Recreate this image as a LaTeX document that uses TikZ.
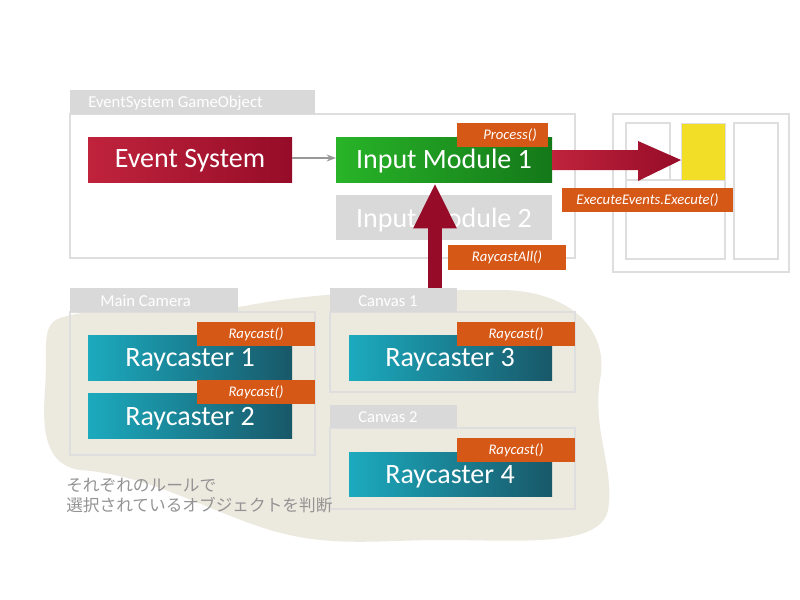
\documentclass[tikz,border=0pt]{standalone}
\usepackage{fontspec}
\setmainfont{Carlito}
\newfontfamily\cjk{Noto Sans CJK JP}
\usetikzlibrary{arrows.meta}
\definecolor{tabg}{RGB}{217,217,217}
\definecolor{boxl}{RGB}{222,222,222}
\definecolor{orng}{RGB}{214,88,22}
\definecolor{redA}{RGB}{192,35,60}
\definecolor{redB}{RGB}{150,12,40}
\definecolor{grnA}{RGB}{40,180,40}
\definecolor{grnB}{RGB}{20,120,25}
\definecolor{tealA}{RGB}{28,170,190}
\definecolor{tealB}{RGB}{24,88,105}
\definecolor{blob}{RGB}{236,233,222}
\definecolor{yel}{RGB}{242,222,38}
\begin{document}
\begin{tikzpicture}[x=0.75pt,y=-0.75pt,
 box/.style={draw=boxl,line width=0.8pt},
 tab/.style={text=white,font=\fontsize{12.5}{14}\selectfont,anchor=west,inner sep=0pt},
 lbl/.style={text=white,font=\fontsize{11}{12}\selectfont\itshape,inner sep=0pt},
 big/.style={text=white,font=\fontsize{21}{24}\selectfont,inner sep=0pt},
 red/.style={left color=redA,right color=redB},
 grn/.style={left color=grnA,right color=grnB},
 teal/.style={left color=tealA,right color=tealB},
 bigarrow/.style={line width=10.5pt,-{Triangle[length=34pt,width=30pt]}}]
\useasboundingbox (0,0) rectangle (800,600);
% blob
\fill[blob] (60,318) .. controls (120,300) and (180,318) .. (250,305)
 .. controls (330,290) and (420,290) .. (500,290)
 .. controls (570,290) and (610,330) .. (600,380)
 .. controls (592,430) and (615,470) .. (608,510)
 .. controls (600,548) and (520,540) .. (440,540)
 .. controls (380,540) and (330,548) .. (270,530)
 .. controls (210,512) and (150,475) .. (80,470)
 .. controls (45,465) and (42,430) .. (45,390)
 .. controls (48,350) and (40,325) .. (60,318) -- cycle;
% EventSystem GameObject
\draw[box] (70,114) rectangle (575,258);
\fill[tabg] (70,90) rectangle (315,114);
\node[tab] (tabES) at (88,103) {EventSystem GameObject};
\path[red] (88,137) rectangle (292,182);
\node[big] (est) at (190,161) {Event System};
\path[grn] (336,137) rectangle (552,182);
\node[big] (im1) at (444,161) {Input Module 1};
\path[fill=tabg] (336,195) rectangle (552,240);
\node[big] (im2) at (444,220) {Input Module 2};
\coordinate (esR) at (292,158);
\coordinate (imL) at (336,158);
\draw[gray!80,line width=1.2pt,-{Stealth[length=7pt]}] (esR) -- (imL);
% vertical arrow
\coordinate (vb) at (435,290);
\coordinate (vt) at (435,183);
\draw[bigarrow,draw=redB] (vb) -- (vt);
\path[fill=orng] (457,123) rectangle (548,147);
\node[lbl] (proct) at (510,135) {Process()};
% right box
\draw[box] (613,114) rectangle (789,272);
\draw[box] (626,123) rectangle (670,180);
\draw[box] (626,180) rectangle (725,259);
\draw[box] (734,123) rectangle (778,259);
\path[fill=yel,draw=boxl] (681,123) rectangle (725,180);
\shade[left color=redA,right color=redB] (552,150) -- (638,150) -- (638,141) -- (681,160) -- (638,181) -- (638,170) -- (552,170) -- cycle;
\path[fill=orng] (562,188) rectangle (733,212);
\node[lbl] (exe) at (647.5,200) {ExecuteEvents.Execute()};
\path[fill=orng] (448,245) rectangle (566,270);
\node[lbl] (rca) at (507,257.5) {RaycastAll()};
% Main camera
\draw[box] (70,312) rectangle (315,455);
\fill[tabg] (70,288) rectangle (238,312);
\node[tab] (tabMC) at (100,301) {Main Camera};
\path[teal] (88,335) rectangle (292,380);
\node[big] (r1) at (190,360) {Raycaster 1};
\path[teal] (88,393) rectangle (292,438);
\node[big] (r2) at (190,419) {Raycaster 2};
\path[fill=orng] (197,322) rectangle (315,346);
\node[lbl] (l1) at (256,334) {Raycast()};
\path[fill=orng] (197,380) rectangle (315,404);
\node[lbl] (l2) at (256,392) {Raycast()};
% Canvas 1
\draw[box] (330,312) rectangle (575,392);
\fill[tabg] (330,288) rectangle (457,312);
\node[tab] (tabC1) at (358,301) {Canvas 1};
\path[teal] (349,335) rectangle (552,380);
\node[big] (r3) at (450,360) {Raycaster 3};
\path[fill=orng] (457,322) rectangle (575,346);
\node[lbl] (l3) at (516,334) {Raycast()};
% Canvas 2
\draw[box] (330,428) rectangle (575,509);
\fill[tabg] (330,405) rectangle (457,428);
\node[tab] (tabC2) at (358,417) {Canvas 2};
\path[teal] (349,452) rectangle (552,496);
\node[big] (r4) at (450,477) {Raycaster 4};
\path[fill=orng] (457,438) rectangle (575,462);
\node[lbl] (l4) at (516,450) {Raycast()};
% note
\node[anchor=north west,text=gray!85,font=\cjk\fontsize{12.5}{15}\selectfont,align=left,inner sep=0pt] (note) at (66,478) {それぞれのルールで\\選択されているオブジェクトを判断};
\end{tikzpicture}
\end{document}
